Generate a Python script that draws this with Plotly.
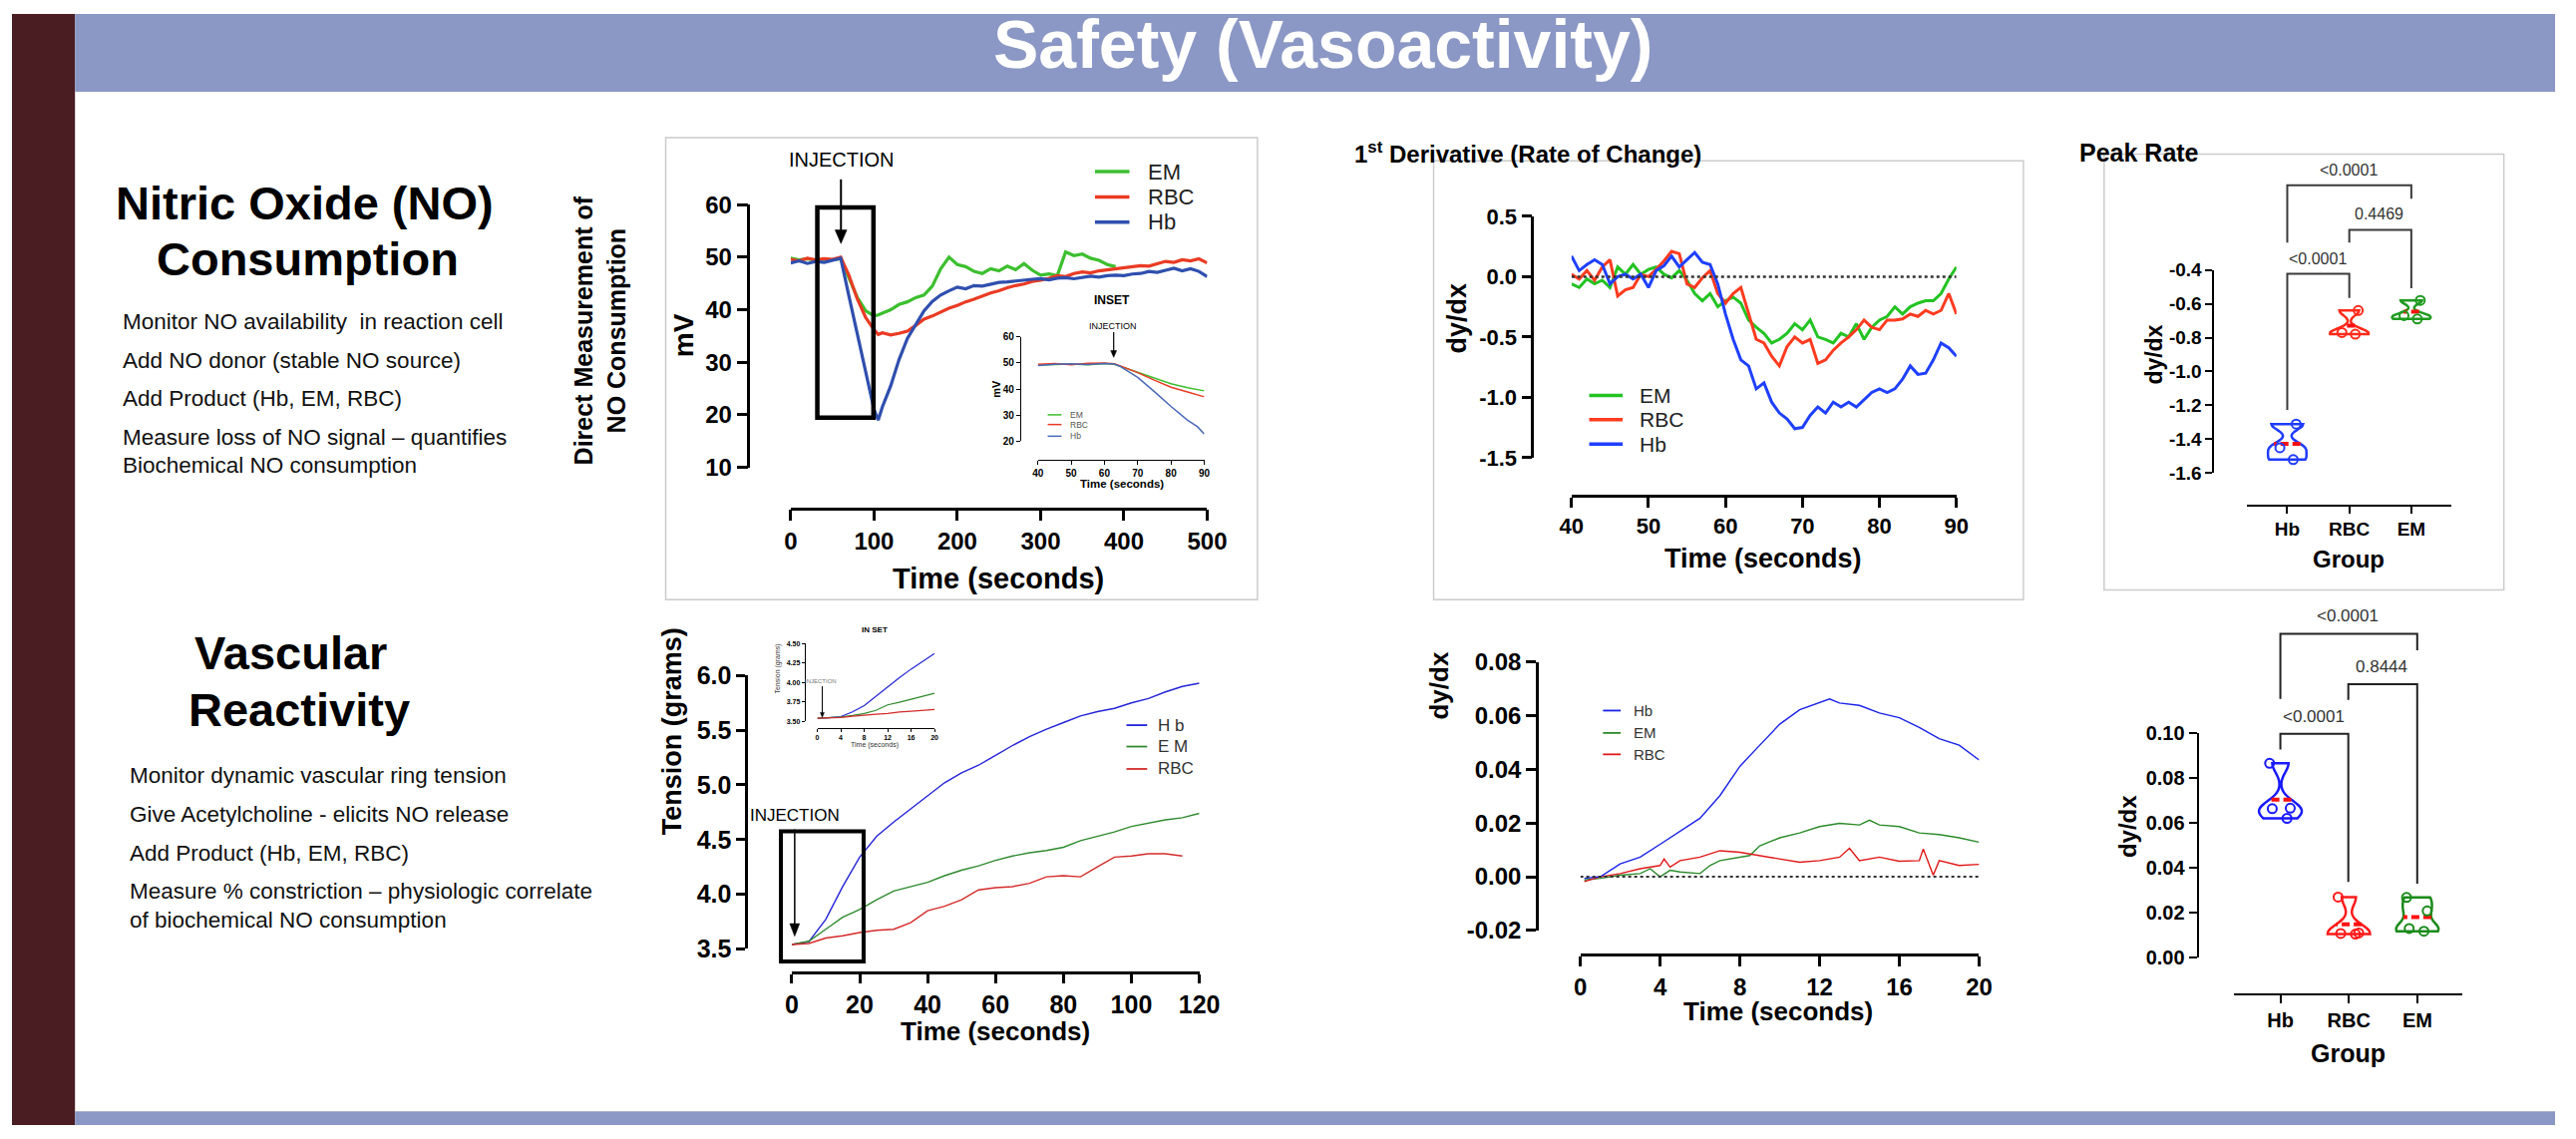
import plotly.graph_objects as go

W, H = 2583, 1142
FONT = "Arial, 'Liberation Sans', sans-serif"

# ---------------- DATA ----------------
# NO consumption (mV) vs time (s)
no_time = [0, 10, 20, 30, 40, 50, 60, 70, 80, 90, 100, 105, 110, 120, 130, 140, 150, 160, 170, 180, 190,
           200, 210, 220, 230, 240, 250, 260, 270, 280, 290, 300, 310, 320, 330, 340, 350, 360, 370, 380,
           390, 400, 410, 420, 430, 440, 450, 460, 470, 480, 490, 500]
no_hb = [48.9, 49.3, 48.8, 49.2, 49.0, 49.4, 49.8, 42.5, 35.5, 28.5, 21.0, 19.0, 21.5, 25.5, 30.5, 34.5,
         37.3, 39.8, 41.6, 42.8, 43.6, 44.3, 44.0, 44.6, 44.5, 44.9, 45.2, 45.3, 45.5, 45.6, 45.8, 45.9,
         45.7, 46.0, 46.1, 45.9, 46.2, 46.4, 46.2, 46.5, 46.6, 46.5, 46.8, 46.9, 47.3, 47.1, 47.5, 47.9,
         47.4, 47.8, 47.3, 46.3]
no_rbc = [49.6, 49.3, 49.8, 49.5, 49.7, 49.6, 50.0, 46.5, 42.0, 38.5, 36.2, 35.3, 35.6, 35.2, 35.5, 35.9,
          37.0, 38.2, 38.8, 39.5, 40.3, 40.8, 41.5, 42.0, 42.6, 43.2, 43.6, 44.2, 44.6, 44.9, 45.4, 45.6,
          46.0, 46.5, 46.3, 46.9, 47.2, 47.0, 47.4, 47.6, 47.8, 48.0, 48.2, 48.4, 48.3, 48.8, 49.2, 49.0,
          49.5, 49.3, 49.7, 48.9]
no_em = [49.8, 49.5, 49.7, 49.4, 49.6, 49.5, 49.7, 46.0, 42.3, 39.8, 38.8, 39.0, 39.3, 40.0, 41.0, 41.5,
         42.3, 42.8, 44.5, 47.8, 50.0, 48.6, 48.2, 47.3, 46.9, 47.8, 47.4, 48.3, 47.6, 48.8, 47.5, 46.6,
         46.8, 46.5, 51.0, 50.3, 50.6, 49.8, 49.4, 48.6, 48.2, None, None, None, None, None, None, None,
         None, None, None, None]

# NO inset (40-90 s)
ins1_time = [40, 45, 50, 55, 60, 63, 65, 70, 75, 80, 85, 88, 90]
ins1_em = [49.2, 49.4, 49.6, 49.3, 49.8, 49.5, 48.6, 46.3, 44.0, 42.0, 40.5, 39.8, 39.3]
ins1_rbc = [49.5, 49.8, 49.3, 49.9, 50.0, 49.7, 48.8, 46.3, 43.4, 40.7, 38.9, 37.8, 37.0]
ins1_hb = [49.0, 49.5, 49.7, 49.4, 49.8, 49.6, 48.5, 44.5, 39.0, 33.3, 28.0, 25.5, 22.7]

# 1st derivative of NO signal (40-90 s)
d1_time = [40, 41, 42, 43, 44, 45, 46, 47, 48, 49, 50, 51, 52, 53, 54, 55, 56, 57, 58, 59, 60, 61, 62, 63,
           64, 65, 66, 67, 68, 69, 70, 71, 72, 73, 74, 75, 76, 77, 78, 79, 80, 81, 82, 83, 84, 85, 86, 87,
           88, 89, 90]
d1_hb = [0.17, 0.05, 0.10, 0.14, 0.10, -0.06, 0.00, 0.02, -0.02, 0.02,
         -0.09, 0.05, 0.09, 0.17, 0.08, 0.14, 0.20, 0.12, 0.10, -0.06,
         -0.31, -0.52, -0.69, -0.74, -0.93, -0.88, -1.04, -1.13, -1.18, -1.26,
         -1.25, -1.15, -1.08, -1.13, -1.04, -1.08, -1.04, -1.08, -1.02, -0.96,
         -0.93, -0.96, -0.93, -0.85, -0.74, -0.81, -0.80, -0.69, -0.55, -0.59, -0.66]
d1_rbc = [0.02, -0.02, 0.05, -0.03, 0.08, 0.14, -0.16, -0.11, -0.09, 0.02,
          0.00, 0.06, 0.13, 0.21, 0.19, -0.06, -0.09, -0.01, 0.05, -0.14,
          -0.22, -0.14, -0.09, -0.31, -0.52, -0.55, -0.66, -0.74, -0.58, -0.50,
          -0.55, -0.52, -0.72, -0.69, -0.61, -0.55, -0.50, -0.44, -0.36, -0.42,
          -0.44, -0.36, -0.36, -0.35, -0.31, -0.33, -0.28, -0.31, -0.28, -0.14, -0.31]
d1_em = [-0.06, -0.09, -0.02, -0.06, -0.03, -0.09, 0.08, 0.02, 0.10, 0.02,
         0.06, 0.08, 0.02, -0.01, 0.05, -0.03, -0.14, -0.20, -0.14, -0.25,
         -0.20, -0.17, -0.22, -0.36, -0.42, -0.47, -0.55, -0.52, -0.47, -0.39,
         -0.44, -0.36, -0.50, -0.52, -0.55, -0.47, -0.50, -0.39, -0.52, -0.42,
         -0.36, -0.33, -0.25, -0.31, -0.25, -0.22, -0.20, -0.20, -0.14, -0.02, 0.08]

# Peak rate (NO) per group
groups = ["Hb", "RBC", "EM"]
peak_hb = [-1.31, -1.45, -1.52]
peak_rbc = [-0.64, -0.78, -0.77]
peak_em = [-0.58, -0.67, -0.69]
peak_p = ["<0.0001", "0.4469", "<0.0001"]

# Vascular ring tension (g) vs time (s)
ten_time = [0, 5, 10, 15, 20, 25, 30, 35, 40, 45, 50, 55, 60, 65, 70, 75, 80, 85, 90, 95, 100, 105, 110,
            115, 120]
ten_hb = [3.54, 3.565, 3.77, 4.07, 4.34, 4.53, 4.66, 4.78, 4.90, 5.02, 5.11, 5.18, 5.27, 5.36, 5.44, 5.51,
          5.57, 5.63, 5.67, 5.70, 5.75, 5.79, 5.85, 5.90, 5.93]
ten_em = [3.54, 3.57, 3.68, 3.79, 3.86, 3.95, 4.03, 4.07, 4.11, 4.17, 4.22, 4.26, 4.31, 4.35, 4.38, 4.40,
          4.43, 4.49, 4.53, 4.57, 4.62, 4.65, 4.68, 4.70, 4.74]
ten_rbc = [3.54, 3.55, 3.60, 3.62, 3.65, 3.67, 3.68, 3.74, 3.85, 3.89, 3.95, 4.04, 4.06, 4.07, 4.10, 4.16,
           4.17, 4.16, 4.25, 4.34, 4.35, 4.37, 4.37, 4.35, None]

# Tension inset (0-20 s)
ins2_time = [0, 2, 4, 6, 8, 10, 12, 14, 16, 18, 20]
ins2_hb = [3.54, 3.545, 3.56, 3.62, 3.70, 3.82, 3.95, 4.06, 4.17, 4.27, 4.37]
ins2_em = [3.54, 3.545, 3.555, 3.575, 3.60, 3.64, 3.71, 3.745, 3.78, 3.82, 3.86]
ins2_rbc = [3.54, 3.545, 3.55, 3.565, 3.58, 3.59, 3.60, 3.62, 3.63, 3.64, 3.65]

# 1st derivative of tension (0-20 s)
d2_hb_t = [0.2, 1, 2, 3, 4, 5, 6, 7, 8, 9, 10, 11, 12, 12.5, 13, 14, 15, 16, 17, 18, 19, 20]
d2_hb = [-0.0006, 0.0000, 0.0048, 0.0073, 0.0121, 0.0169, 0.0218, 0.0302, 0.0411, 0.0490, 0.0568, 0.0622,
         0.0647, 0.0662, 0.0647, 0.0638, 0.0610, 0.0592, 0.0556, 0.0514, 0.0490, 0.0435]
d2_em_t = [0.2, 1, 2, 3, 3.5, 4, 4.5, 5, 6, 6.5, 7, 8, 8.5, 9, 10, 11, 12, 13, 14, 14.5, 15, 16, 17, 18,
           19, 20]
d2_em = [-0.0012, -0.0006, 0.0006, 0.0012, 0.0030, 0.0000, 0.0024, 0.0018, 0.0012, 0.0042, 0.0060, 0.0073,
         0.0079, 0.0115, 0.0145, 0.0163, 0.0187, 0.0199, 0.0193, 0.0211, 0.0193, 0.0187, 0.0163, 0.0157,
         0.0145, 0.0129]
d2_rbc_t = [0.2, 1, 2, 3, 4, 4.2, 4.5, 5, 6, 7, 8, 9, 10, 11, 12, 13, 13.5, 14, 15, 16, 17, 17.2, 17.7,
            18, 19, 20]
d2_rbc = [-0.0018, 0.0000, 0.0012, 0.0030, 0.0042, 0.0066, 0.0036, 0.0060, 0.0073, 0.0097, 0.0091, 0.0079,
          0.0066, 0.0054, 0.0060, 0.0073, 0.0106, 0.0060, 0.0073, 0.0058, 0.0060, 0.0103, 0.0006, 0.0060,
          0.0042, 0.0046]

# Peak rate (tension) per group
rate_hb = [0.0865, 0.0663, 0.0665, 0.0620]
rate_rbc = [0.0270, 0.0110, 0.0105, 0.0108]
rate_em = [0.0268, 0.0208, 0.0130, 0.0118]
rate_p = ["<0.0001", "0.8444", "<0.0001"]

# tick labels
no_yticks = [10, 20, 30, 40, 50, 60]
no_xticks = [0, 100, 200, 300, 400, 500]
ins1_yticks = [20, 30, 40, 50, 60]
ins1_xticks = [40, 50, 60, 70, 80, 90]
d1_yticks = [0.5, 0.0, -0.5, -1.0, -1.5]
d1_ylabels = ["0.5", "0.0", "-0.5", "-1.0", "-1.5"]
d1_xticks = [40, 50, 60, 70, 80, 90]
peak_yticks = [-0.4, -0.6, -0.8, -1.0, -1.2, -1.4, -1.6]
peak_ylabels = ["-0.4", "-0.6", "-0.8", "-1.0", "-1.2", "-1.4", "-1.6"]
ten_yticks = [3.5, 4.0, 4.5, 5.0, 5.5, 6.0]
ten_ylabels = ["3.5", "4.0", "4.5", "5.0", "5.5", "6.0"]
ten_xticks = [0, 20, 40, 60, 80, 100, 120]
ins2_yticks = [3.5, 3.75, 4.0, 4.25, 4.5]
ins2_ylabels = ["3.50", "3.75", "4.00", "4.25", "4.50"]
ins2_xticks = [0, 4, 8, 12, 16, 20]
d2_yticks = [-0.02, 0.0, 0.02, 0.04, 0.06, 0.08]
d2_ylabels = ["-0.02", "0.00", "0.02", "0.04", "0.06", "0.08"]
d2_xticks = [0, 4, 8, 12, 16, 20]
rate_yticks = [0.0, 0.02, 0.04, 0.06, 0.08, 0.10]
rate_ylabels = ["0.00", "0.02", "0.04", "0.06", "0.08", "0.10"]

# ---------------- helpers ----------------
def X(px):
    return px / W


def Y(py):
    return 1 - py / H


shapes, anns, traces = [], [], []
layout_axes = {}


def txt(s, x, y, size, bold=False, color="black", xa="center", ya="middle", angle=0):
    anns.append(dict(text=s, x=X(x), y=Y(y), xref="paper", yref="paper", xanchor=xa, yanchor=ya,
                     showarrow=False, textangle=angle,
                     font=dict(size=size, color=color, family=FONT, weight="bold" if bold else "normal")))


def arrow(x, y_tail, y_head, width=2, hw=5, hl=11, color="black"):
    # vertical downward arrow drawn as a shaft plus a filled head
    shapes.append(dict(type="line", xref="paper", yref="paper", x0=X(x), x1=X(x), y0=Y(y_tail),
                       y1=Y(y_head - hl + 1), line=dict(color=color, width=width)))
    path = f"M{X(x - hw)},{Y(y_head - hl)} L{X(x + hw)},{Y(y_head - hl)} L{X(x)},{Y(y_head)} Z"
    shapes.append(dict(type="path", xref="paper", yref="paper", path=path, fillcolor=color,
                       line=dict(color=color, width=0.5)))


def rect(x0, y0, x1, y1, line_color=None, lw=0, fill=None, layer="above"):
    shapes.append(dict(type="rect", xref="paper", yref="paper", x0=X(x0), x1=X(x1), y0=Y(y0), y1=Y(y1),
                       line=dict(color=line_color or "rgba(0,0,0,0)", width=lw),
                       fillcolor=fill or "rgba(0,0,0,0)", layer=layer))


def hline(x0, x1, y, color, lw):
    shapes.append(dict(type="line", xref="paper", yref="paper", x0=X(x0), x1=X(x1), y0=Y(y), y1=Y(y),
                       line=dict(color=color, width=lw)))


def bracket(xl, xr, ytop, yl, yr, color="#3a3a3a", lw=2):
    path = f"M{X(xl)},{Y(yl)} L{X(xl)},{Y(ytop)} L{X(xr)},{Y(ytop)} L{X(xr)},{Y(yr)}"
    shapes.append(dict(type="path", xref="paper", yref="paper", path=path, line=dict(color=color, width=lw)))


def legend(entries, x0, x1, xt, ys, size, lw, color="#222"):
    for (name, c), y in zip(entries, ys):
        hline(x0, x1, y, c, lw)
        txt(name, xt, y, size, color=color, xa="left")


def axes(n, xdom, ydom, xline_y, yline_x, xrange, yrange, xticks, xlabels, yticks, ylabels,
         fsize, lw=2.5, tlen=10):
    xa = "xaxis" if n == 1 else f"xaxis{n}"
    ya = "yaxis" if n == 1 else f"yaxis{n}"
    tf = dict(size=fsize, family=FONT, color="black", weight="bold")
    common = dict(showline=True, linecolor="black", linewidth=lw, ticks="outside", ticklen=tlen,
                  tickwidth=lw, tickcolor="black", showgrid=False, zeroline=False, fixedrange=True,
                  tickmode="array", anchor="free", tickfont=tf)
    layout_axes[xa] = dict(common, domain=[X(xdom[0]), X(xdom[1])], range=xrange, position=Y(xline_y),
                           tickvals=xticks, ticktext=xlabels)
    layout_axes[ya] = dict(common, domain=[Y(ydom[0]), Y(ydom[1])], range=yrange, position=X(yline_x),
                           tickvals=yticks, ticktext=ylabels)
    return ("x" if n == 1 else f"x{n}"), ("y" if n == 1 else f"y{n}")


def line(xs, ys, color, width, ax):
    traces.append(go.Scatter(x=xs, y=ys, mode="lines", line=dict(color=color, width=width),
                             xaxis=ax[0], yaxis=ax[1], showlegend=False, connectgaps=False,
                             hoverinfo="skip"))


def violin(vals, pos, color, bw, ax):
    traces.append(go.Violin(y=vals, x=[pos] * len(vals), xaxis=ax[0], yaxis=ax[1], showlegend=False,
                            line=dict(color=color, width=2.5), fillcolor="rgba(255,255,255,0)",
                            points="all", pointpos=0, jitter=0.6,
                            marker=dict(symbol="circle-open", size=9, color=color,
                                        line=dict(width=2, color=color)),
                            meanline=dict(visible=True, color="#ff1010", width=4), box=dict(visible=False),
                            spanmode="hard", bandwidth=bw, width=0.62, scalemode="width",
                            hoverinfo="skip"))


# ---------------- slide background ----------------
BANNER = "#8B97C4"
rect(0, 0, 64, H, fill="#4A1D23", layer="below")
rect(64, 0, W, 80, fill=BANNER, layer="below")
rect(64, 1128, W, H, fill=BANNER, layer="below")
txt("Safety (Vasoactivity)", 1332, 31, 68, bold=True, color="white")

# left text blocks
txt("Nitric Oxide (NO)", 297, 194, 47, bold=True)
txt("Consumption", 300, 252, 47, bold=True)
for s, y in zip(["Monitor NO availability  in reaction cell", "Add NO donor (stable NO source)",
                 "Add Product (Hb, EM, RBC)", "Measure loss of NO signal \u2013 quantifies",
                 "Biochemical NO consumption"], [316, 356, 395, 435, 464]):
    txt(s, 110, y, 22.5, color="#111", xa="left")

txt("Vascular", 283, 657, 47, bold=True)
txt("Reactivity", 292, 715, 47, bold=True)
for s, y in zip(["Monitor dynamic vascular ring tension", "Give Acetylcholine - elicits NO release",
                 "Add Product (Hb, EM, RBC)", "Measure % constriction \u2013 physiologic correlate",
                 "of biochemical NO consumption"], [783, 823, 863, 902, 931]):
    txt(s, 117, y, 22.5, color="#111", xa="left")

# ---------------- Chart 1: NO consumption ----------------
rect(664, 127, 1265, 602, line_color="#cccccc", lw=1.5)
txt("Direct Measurement of<br>NO Consumption", 597, 325, 25, bold=True, angle=-90)
a1 = axes(1, (791, 1214), (466, 196), 508, 748, [0, 500], [10, 60], no_xticks, [str(v) for v in no_xticks],
          no_yticks, [str(v) for v in no_yticks], 24, lw=2.5, tlen=11)
GRN, RED, BLU = "#3cbf2e", "#ea3b24", "#2f4fae"
line(no_time, no_em, GRN, 3.2, a1)
line(no_time, no_rbc, RED, 3.2, a1)
line(no_time, no_hb, BLU, 3.2, a1)
txt("mV", 683, 330, 28, bold=True, angle=-90)
txt("Time (seconds)", 1002, 580, 29, bold=True)
txt("INJECTION", 843, 150, 20)
arrow(842, 170, 236, width=2, hw=6, hl=14)
rect(818, 199, 875, 415, line_color="black", lw=4.5)
legend([("EM", GRN), ("RBC", RED), ("Hb", BLU)], 1100, 1135, 1152, [162, 188, 214], 22, 3.5)

# inset
a2 = axes(2, (1042, 1211), (439, 332), 458, 1024, [40, 90], [20, 60], ins1_xticks,
          [str(v) for v in ins1_xticks], ins1_yticks, [str(v) for v in ins1_yticks], 10, lw=1.2, tlen=4)
line(ins1_time, ins1_em, GRN, 1.5, a2)
line(ins1_time, ins1_rbc, RED, 1.5, a2)
line(ins1_time, ins1_hb, "#4a6ab8", 1.5, a2)
txt("INSET", 1117, 294, 12, bold=True)
txt("INJECTION", 1118, 321, 9)
arrow(1119, 327, 353, width=1.2, hw=3, hl=7)
txt("mV", 999, 385, 11, bold=True, angle=-90)
txt("Time (seconds)", 1127, 483, 11.5, bold=True)
legend([("EM", GRN), ("RBC", RED), ("Hb", "#4a6ab8")], 1052, 1066, 1073, [412, 422, 434], 8.5, 1.5,
       color="#555")

# ---------------- Chart 2: 1st derivative NO ----------------
rect(1444, 151, 2043, 602, line_color="#cccccc", lw=1.5)
txt("1<sup>st</sup> Derivative (Rate of Change)", 1361, 142, 24, bold=True, xa="left")
a3 = axes(3, (1584, 1975), (456, 208), 495, 1544, [40, 90], [-1.5, 0.5], d1_xticks,
          [str(v) for v in d1_xticks], d1_yticks, d1_ylabels, 22, lw=2.5, tlen=10)
shapes.append(dict(type="line", xref="x3", yref="y3", x0=40, x1=90, y0=0, y1=0,
                   line=dict(color="#333", width=2.5, dash="dot")))
G2, R2, B2 = "#22c322", "#ff3b1f", "#1f40ff"
line(d1_time, d1_em, G2, 3, a3)
line(d1_time, d1_rbc, R2, 3, a3)
line(d1_time, d1_hb, B2, 3, a3)
txt("dy/dx", 1468, 313, 27, bold=True, angle=-90)
txt("Time (seconds)", 1779, 560, 27, bold=True)
legend([("EM", G2), ("RBC", R2), ("Hb", B2)], 1602, 1636, 1651, [392, 417, 442], 21, 3.5)

# ---------------- Chart 3: Peak rate (NO) ----------------
rect(2125, 144, 2531, 592, line_color="#cccccc", lw=1.5)
txt("Peak Rate", 2098, 142, 25, bold=True, xa="left")
a4 = axes(4, (2270, 2478), (472, 263), 505, 2236, [-0.65, 2.65], [-1.6, -0.4], [0, 1, 2], groups,
          peak_yticks, peak_ylabels, 19, lw=2, tlen=7)
violin(peak_hb, 0, "#1f3cff", 0.035, a4)
violin(peak_rbc, 1, "#ff2a1a", 0.028, a4)
violin(peak_em, 2, "#1f9a1f", 0.022, a4)
txt("dy/dx", 2176, 350, 23, bold=True, angle=-90)
txt("Group", 2373, 560, 24, bold=True)
bracket(2311, 2374, 267, 407, 292)
bracket(2374, 2437, 222, 235, 282)
bracket(2311, 2437, 176, 235, 190)
txt(peak_p[0], 2342, 252, 16, color="#333")
txt(peak_p[1], 2404, 206, 16, color="#333")
txt(peak_p[2], 2373, 160, 16, color="#333")

# ---------------- Chart 4: Tension ----------------
a5 = axes(5, (792, 1206), (961, 680), 985, 746, [0, 120], [3.5, 6.0], ten_xticks,
          [str(v) for v in ten_xticks], ten_yticks, ten_ylabels, 25, lw=3, tlen=9)
TB, TG, TR = "#2424d8", "#2f8a2f", "#d42a2a"
line(ten_time, ten_hb, TB, 1.4, a5)
line(ten_time, ten_em, TG, 1.4, a5)
line(ten_time, ten_rbc, TR, 1.4, a5)
txt("Tension (grams)", 671, 737, 27, bold=True, angle=-90)
txt("Time (seconds)", 999, 1046, 26, bold=True)
txt("INJECTION", 795, 824, 17)
arrow(795, 838, 948, width=1.5, hw=5, hl=13)
rect(781, 840, 865, 974, line_color="black", lw=4)
legend([("H b", TB), ("E M", TG), ("RBC", TR)], 1132, 1153, 1162, [731, 753, 776], 17, 1.8,
       color="#333")

# inset
a6 = axes(6, (818, 937), (727, 647), 734, 805, [0, 20], [3.5, 4.5], ins2_xticks,
          [str(v) for v in ins2_xticks], ins2_yticks, ins2_ylabels, 7, lw=1, tlen=3)
line(ins2_time, ins2_hb, TB, 1.2, a6)
line(ins2_time, ins2_em, TG, 1.2, a6)
line(ins2_time, ins2_rbc, TR, 1.2, a6)
txt("IN SET", 876, 633, 8, bold=True)
txt("Tension (grams)", 778, 673, 7, angle=-90, color="#333")
txt("Time (seconds)", 876, 751, 7, color="#333")
txt("INJECTION", 822, 686, 6, color="#777")
arrow(823, 691, 723, width=1, hw=2, hl=5)

# ---------------- Chart 5: 1st derivative tension ----------------
a7 = axes(7, (1593, 1998), (942, 666), 967, 1549, [0, 20], [-0.02, 0.08], d2_xticks,
          [str(v) for v in d2_xticks], d2_yticks, d2_ylabels, 24, lw=3, tlen=10)
shapes.append(dict(type="line", xref="x7", yref="y7", x0=0, x1=20, y0=0, y1=0,
                   line=dict(color="#333", width=2, dash="dot")))
DB, DG, DR = "#1a22e8", "#2a8a2a", "#e01818"
line(d2_em_t, d2_em, DG, 1.4, a7)
line(d2_rbc_t, d2_rbc, DR, 1.4, a7)
line(d2_hb_t, d2_hb, DB, 1.4, a7)
txt("dy/dx", 1450, 690, 26, bold=True, angle=-90)
txt("Time (seconds)", 1794, 1025, 26, bold=True)
legend([("Hb", DB), ("EM", DG), ("RBC", DR)], 1616, 1634, 1645, [716, 739, 761], 15, 1.8, color="#333")

# ---------------- Chart 6: Peak rate (tension) ----------------
a8 = axes(8, (2257, 2489), (970, 739), 1008, 2220, [-0.676, 2.66], [0.0, 0.10], [0, 1, 2], groups,
          rate_yticks, rate_ylabels, 20, lw=2, tlen=8)
violin(rate_hb, 0, "#1a1aff", 0.004, a8)
violin(rate_rbc, 1, "#ff1a1a", 0.004, a8)
violin(rate_em, 2, "#1a8a1a", 0.0035, a8)
txt("dy/dx", 2149, 835, 24, bold=True, angle=-90)
txt("Group", 2373, 1068, 25, bold=True)
bracket(2304, 2373, 740, 756, 892, color="#222")
bracket(2373, 2443, 689, 705, 894, color="#222")
bracket(2304, 2443, 637, 704, 654, color="#222")
txt(rate_p[0], 2338, 722, 17, color="#333")
txt(rate_p[1], 2407, 671, 17, color="#333")
txt(rate_p[2], 2372, 619, 17, color="#333")

fig = go.Figure(data=traces)
fig.update_layout(width=W, height=H, autosize=False, margin=dict(l=0, r=0, t=0, b=0, pad=0),
                  paper_bgcolor="white", plot_bgcolor="rgba(0,0,0,0)", showlegend=False,
                  shapes=shapes, annotations=anns, font=dict(family=FONT, color="black"),
                  violinmode="overlay", **layout_axes)
PAGE_CSS = ("var h=document.documentElement,b=document.body;"
            "h.style.cssText='margin:0;padding:0;overflow:hidden;background:white;';"
            "b.style.cssText='margin:0;padding:0;overflow:hidden;background:white;';")
fig.write_html("out.html", config={"displayModeBar": False, "responsive": False}, post_script=PAGE_CSS)
